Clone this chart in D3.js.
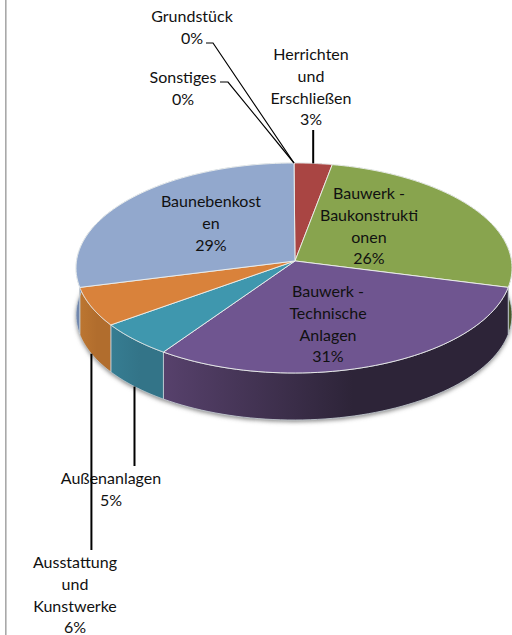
<!DOCTYPE html>
<html>
<head>
<meta charset="utf-8">
<script src="https://cdn.jsdelivr.net/npm/d3@7"></script>
<style>
html, body { margin: 0; padding: 0; background: #fff; }
svg { display: block; }
text { font-family: Lato, "Open Sans", sans-serif; font-size: 16px; fill: #111; text-anchor: middle; }
</style>
</head>
<body>
<div id="chart"></div>
<script>
const categories = ["Herrichten und Erschließen", "Bauwerk - Baukonstruktionen", "Bauwerk - Technische Anlagen", "Außenanlagen", "Ausstattung und Kunstwerke", "Baunebenkosten", "Sonstiges", "Grundstück"]
const values = [3, 26, 30.6, 5.4, 6, 29, 0, 0]
const labelLines = [
    ["Herrichten", "und", "Erschließen"],
    ["Bauwerk -", "Baukonstrukti", "onen"],
    ["Bauwerk -", "Technische", "Anlagen"],
    ["Außenanlagen"],
    ["Ausstattung", "und", "Kunstwerke"],
    ["Baunebenkost", "en"],
    ["Sonstiges"],
    ["Grundstück"]
]
const topColors = ["#a94543", "#88a44e", "#6f5590", "#3f97ae", "#d9823b", "#92a8cd", "#92a8cd", "#92a8cd"]
const wallLeft = ["#7d3231", "#64793a", "#57416c", "#367d92", "#bc7631", "#7187ad", "#7187ad", "#7187ad"]
const wallRight = ["#7d3231", "#4a5a2b", "#2d2438", "#337488", "#b16d2d", "#6c82a8", "#6c82a8", "#6c82a8"]

// label layout: centre x, first baseline
const labelX = [311, 369, 328, 111, 75, 211, 183, 192]
const labelY = [60, 199, 297, 484, 568, 207, 83, 22]
const lineStep = 21.8

const width = 512, height = 635
const cx = 294, cy = 268, rx = 218, ry = 105, depth = 47
const persp = 0.067   // front of the disc looks bigger, moves the centre up

const svg = d3.select("#chart").append("svg").attr("width", width).attr("height", height)
const defs = svg.append("defs")

defs.append("filter").attr("id", "soft")
    .attr("x", "-5%").attr("y", "-5%").attr("width", "110%").attr("height", "110%")
    .append("feGaussianBlur").attr("stdDeviation", 2)

svg.append("rect").attr("x", 5).attr("y", 0).attr("width", 1.6).attr("height", height).attr("fill", "#a9a9a9")

// angle on the disc -> screen position
const project = (a, drop = 0) => {
    const u = Math.sin(a), v = -Math.cos(a)
    const k = 1 - persp * v
    return [
        cx + rx * u * Math.sqrt(1 - persp * persp) / k,
        cy + ry * (v - persp) / k + drop
    ]
}
const rim = (a0, a1, drop = 0) => d3.range(0, 61).map((i) => project(a0 + (a1 - a0) * i / 60, drop))
const line = d3.line()

const pie = d3.pie().sort(null).value((d) => d)
const slices = pie(values)
const centre = [cx + 1, cy - ry * persp]

// shadow under the disc
svg.append("path")
    .attr("d", line(rim(0, 2 * Math.PI, depth + 2)) + "Z")
    .attr("fill", "#8a8a8a")
    .attr("filter", "url(#soft)")

// side walls, back ones end up hidden under the top faces
slices.forEach((s, i) => {
    if (s.endAngle === s.startAngle) return
    const id = "wall" + i
    const grad = defs.append("linearGradient").attr("id", id)
    grad.append("stop").attr("offset", "0%").attr("stop-color", wallLeft[i])
    grad.append("stop").attr("offset", "55%").attr("stop-color", wallRight[i])
    const top = rim(s.startAngle, s.endAngle)
    const bottom = rim(s.startAngle, s.endAngle, depth).reverse()
    svg.append("path")
        .attr("d", line(top.concat(bottom)) + "Z")
        .attr("fill", `url(#${id})`)
        .attr("stroke", "#c9d2d8")
        .attr("stroke-width", 0.8)
})

// top faces
slices.forEach((s, i) => {
    if (s.endAngle === s.startAngle) return
    svg.append("path")
        .attr("d", line([centre].concat(rim(s.startAngle, s.endAngle))) + "Z")
        .attr("fill", topColors[i])
        .attr("stroke", "#eef1ee")
        .attr("stroke-width", 0.9)
})

// labels
const pct = d3.format(".0%")
const total = d3.sum(values)
const label = svg.selectAll("text.label").data(slices).enter().append("text")
    .attr("class", "label")
    .attr("y", (d, i) => labelY[i])
label.each(function (d, i) {
    const lines = labelLines[i].concat(pct(values[i] / total))
    d3.select(this).selectAll("tspan").data(lines).enter().append("tspan")
        .attr("x", labelX[i])
        .attr("dy", (t, j) => j === 0 ? 0 : lineStep)
        .text((t) => t)
})

// leader lines start from the middle of their slice
const mid = (i) => (slices[i].startAngle + slices[i].endAngle) / 2
const leaders = [
    { i: 0, drop: 0, ends: (p) => [[p[0], 130], p], w: 2 },
    { i: 3, drop: depth, ends: (p) => [p, [p[0], 466]], w: 2 },
    { i: 4, drop: depth, ends: (p) => [p, [p[0], 550]], w: 2 },
    { i: 6, drop: 0, ends: (p) => [[220, 82], [228, 82], p], w: 1.2 },
    { i: 7, drop: 0, ends: (p) => [[206, 43], [213, 43], p], w: 1.2 }
]
leaders.forEach((l) => {
    const a = values[l.i] === 0 ? 0 : mid(l.i)
    svg.append("path")
        .attr("d", line(l.ends(project(a, l.drop))))
        .attr("fill", "none")
        .attr("stroke", "#000")
        .attr("stroke-width", l.w)
})
</script>
</body>
</html>
